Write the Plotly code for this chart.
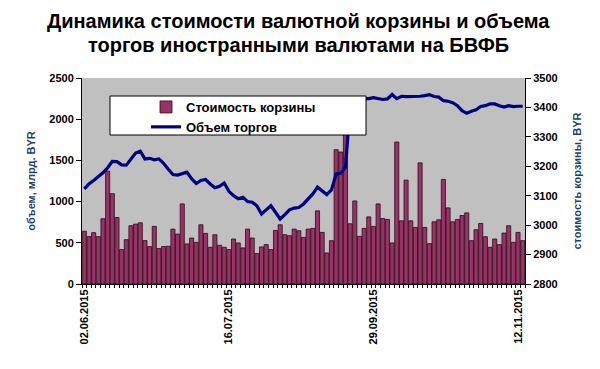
import plotly.graph_objects as go

# Tick labels on the category axis (index of the category they belong to)
tick_labels = ["02.06.2015", "16.07.2015", "29.09.2015", "12.11.2015"]
tick_index = [0, 31, 62, 93]

# Bars: "Стоимость корзины" (plotted on left axis, 0-2500)
bar_values = [
    640, 575, 623, 575, 792, 1370, 1096, 807, 418, 538,
    707, 727, 743, 527, 454, 699, 430, 454, 458, 666,
    606, 972, 486, 558, 506, 719, 614, 446, 598, 470,
    446, 418, 546, 498, 438, 666, 558, 370, 450, 478,
    418, 650, 719, 598, 586, 666, 646, 566, 666, 675,
    888, 626, 377, 526, 1630, 1602, 1850, 731, 1008, 578,
    675, 815, 699, 972, 795, 783, 498, 1723, 767, 1261,
    767, 687, 1470, 687, 490, 755, 779, 1269, 924, 755,
    783, 831, 863, 526, 659, 735, 574, 446, 546, 478,
    618, 707, 506, 626, 526,
]

# Line: "Объем торгов" (plotted on right axis, 2800-3500)
line_values = [
    3123, 3140, 3152, 3165, 3178, 3195, 3217, 3216, 3205, 3204,
    3225, 3245, 3251, 3225, 3227, 3222, 3225, 3210, 3190, 3172,
    3170, 3176, 3180, 3158, 3142, 3152, 3155, 3140, 3127, 3132,
    3143, 3115, 3100, 3090, 3095, 3080, 3078, 3066, 3038, 3052,
    3066, 3044, 3021, 3036, 3052, 3058, 3060, 3072, 3089, 3106,
    3129, 3117, 3104, 3120, 3174, 3176, 3197, 3400, 3432, 3430,
    3429, 3430, 3433, 3430, 3427, 3429, 3444, 3430, 3438, 3437,
    3437, 3437, 3438, 3440, 3443, 3437, 3435, 3423, 3421, 3416,
    3406, 3389, 3380, 3387, 3392, 3403, 3406, 3412, 3412, 3406,
    3401, 3406, 3403, 3404, 3404,
]

title_lines = [
    "Динамика стоимости валютной корзины и объема",
    "торгов иностранными валютами на БВФБ",
]

x_idx = list(range(len(bar_values)))

W, H = 600, 369
ML, MR, MT, MB = 82, 75, 78, 85
PW, PH = W - ML - MR, H - MT - MB


def px_x(px):
    return (px - ML) / PW


def px_y(py):
    return 1 - (py - MT) / PH


fig = go.Figure()
fig.add_trace(go.Bar(
    x=x_idx, y=bar_values, name="Стоимость корзины",
    marker=dict(color="#993366", line=dict(color="#2a0a18", width=0.8)),
    yaxis="y",
))
fig.add_trace(go.Scatter(
    x=x_idx, y=line_values, name="Объем торгов", mode="lines",
    line=dict(color="#000080", width=3.2),
    yaxis="y2",
))

font_main = "Liberation Sans, Arial, sans-serif"
axis_title_color = "#1F3F6F"

# legend frame (white box with black border)
fig.add_shape(
    type="rect", xref="paper", yref="paper", layer="above",
    x0=px_x(110), x1=px_x(366), y0=px_y(135), y1=px_y(96),
    fillcolor="white", line=dict(color="black", width=1),
)

# title, two centred lines
for txt, cy in zip(title_lines, [21, 45]):
    fig.add_annotation(
        text="<b>" + txt + "</b>", showarrow=False,
        xref="paper", yref="paper", x=px_x(298), y=px_y(cy),
        xanchor="center", yanchor="middle",
        font=dict(family=font_main, size=20, color="black"),
    )

fig.update_layout(
    width=W, height=H,
    margin=dict(l=ML, r=MR, t=MT, b=MB, autoexpand=False),
    paper_bgcolor="white",
    plot_bgcolor="#C0C0C0",
    bargap=0.12,
    showlegend=True,
    legend=dict(
        x=px_x(146), xanchor="left", y=px_y(92), yanchor="top",
        bgcolor="rgba(0,0,0,0)", borderwidth=0,
        font=dict(family=font_main, size=13, color="black", weight="bold"),
        itemwidth=30, tracegroupgap=0,
    ),
    xaxis=dict(
        range=[-0.5, len(bar_values) - 0.5],
        tickmode="array", tickvals=tick_index, ticktext=tick_labels,
        tickangle=-90, ticks="", showgrid=False, zeroline=False,
        showline=True, linecolor="black", linewidth=1,
        tickfont=dict(family=font_main, size=11, color="black", weight="bold"),
        minor=dict(ticks="outside", dtick=1, tick0=0.5, ticklen=3, tickcolor="black"),
    ),
    yaxis=dict(
        range=[0, 2500], dtick=500, ticks="outside", ticklen=5, tickcolor="black",
        showgrid=False, zeroline=False, showline=True, linecolor="black",
        tickfont=dict(family=font_main, size=11, color="black", weight="bold"),
        title=dict(text="объем, млрд. BYR", standoff=11,
                   font=dict(family=font_main, size=11, color=axis_title_color, weight="bold")),
    ),
    yaxis2=dict(
        range=[2800, 3500], dtick=100, overlaying="y", side="right",
        ticks="outside", ticklen=5, tickcolor="black",
        showgrid=False, zeroline=False, showline=True, linecolor="black",
        tickfont=dict(family=font_main, size=11, color="black", weight="bold"),
        title=dict(text="стоимость корзины, BYR", standoff=16,
                   font=dict(family=font_main, size=11, color=axis_title_color, weight="bold")),
    ),
)

fig.write_html("out.html", config={"displayModeBar": False},
               post_script="document.body.style.margin='0';")
